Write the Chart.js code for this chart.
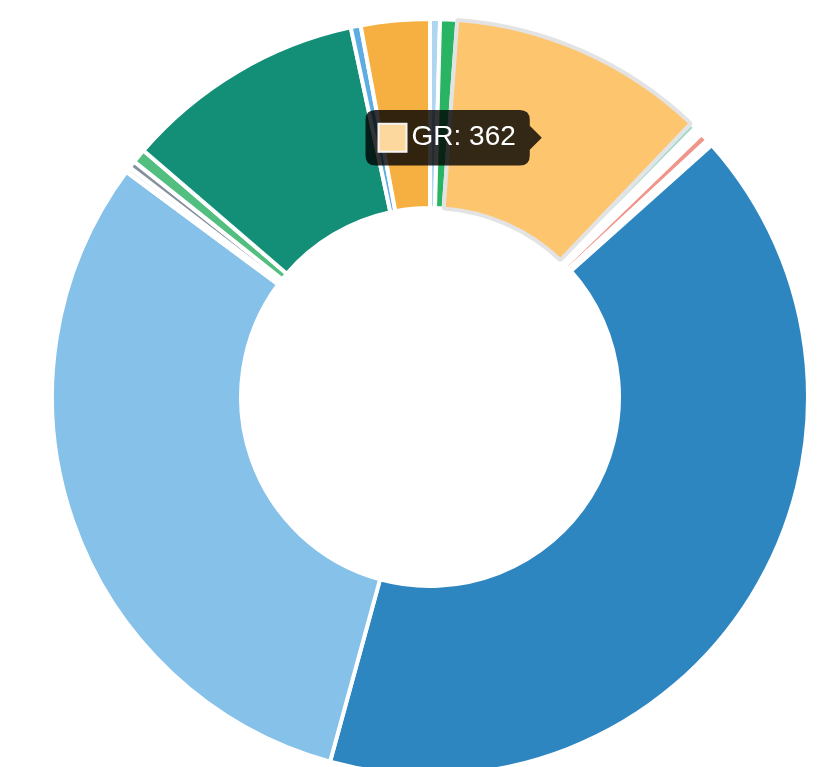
<!DOCTYPE html>
<html>
<head>
<meta charset="utf-8">
<script src="https://cdn.jsdelivr.net/npm/chart.js@4.4.1/dist/chart.umd.min.js"></script>
<style>
  html, body { margin: 0; padding: 0; background: #fff; overflow: hidden; }
  #wrap { position: absolute; left: 50px; top: 17px; width: 760px; height: 760px; }
</style>
</head>
<body>
<div id="wrap"><canvas id="donut"></canvas></div>
<script>
// slice data (clockwise from the top)
const countries = ['AT', 'BE', 'GR', 'CY', 'DK', 'EE', 'FI', 'FR', 'DE', 'HR', 'HU', 'IE', 'IT', 'LV', 'LT'];
const amounts   = [14, 24, 362, 9, 12, 12, 9, 1349, 1020, 8, 10, 20, 341, 14, 97];
const hovered   = 'GR';

const sliceColors = ['#AED6F1', '#28B463', '#FEC56F', '#A2D9CE', '#FDFEFE', '#F1948A', '#FBFCFC',
                     '#2E86C1', '#85C1E9', '#F4F6F6', '#85929E', '#52BE80', '#148F77', '#5DADE2', '#F5B041'];

const donut = new Chart(document.getElementById('donut'), {
  type: 'doughnut',
  data: {
    labels: countries,
    datasets: [{
      data: amounts,
      backgroundColor: sliceColors,
      hoverBackgroundColor: sliceColors,
      borderColor: '#fff',
      borderWidth: 4,
      hoverBorderColor: '#e3e3e3',
      hoverBorderWidth: 4
    }]
  },
  options: {
    responsive: true,
    maintainAspectRatio: false,
    animation: false,
    cutout: '50%',
    layout: { padding: 0 },
    plugins: {
      legend: { display: false },
      tooltip: {
        displayColors: true,
        bodyFont: { size: 28 },
        padding: { top: 11, bottom: 11, left: 13, right: 14 },
        boxPadding: 3,
        caretSize: 12,
        caretPadding: 3,
        cornerRadius: 10,
        callbacks: {
          title: () => '',
          label: (ctx) => ctx.label + ': ' + ctx.formattedValue,
          labelColor: () => ({ borderColor: '#f3f3f3', backgroundColor: '#FDD89E', borderWidth: 2 })
        }
      }
    }
  }
});

const idx = countries.indexOf(hovered);
donut.setActiveElements([{ datasetIndex: 0, index: idx }]);
donut.tooltip.setActiveElements([{ datasetIndex: 0, index: idx }], { x: 0, y: 0 });
donut.update();
</script>
</body>
</html>
